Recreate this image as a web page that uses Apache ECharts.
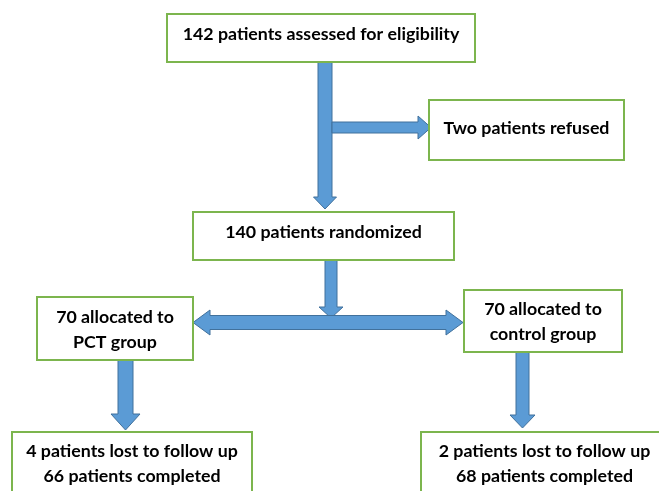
<!DOCTYPE html>
<html>
<head>
<meta charset="utf-8">
<script src="https://cdn.jsdelivr.net/npm/echarts@6/dist/echarts.min.js"></script>
<style>html,body{margin:0;padding:0;background:#fff}#c{width:659px;height:491px}</style>
</head>
<body>
<div id="c"></div>
<script>
// Flowchart content
const boxTexts = [
  '142 patients assessed for eligibility',
  'Two patients refused',
  '140 patients randomized',
  '70 allocated to\nPCT group',
  '70 allocated to\ncontrol group',
  '4 patients lost to follow up\n66 patients completed',
  '2 patients lost to follow up\n68 patients completed'
];
// Layout (pixel-like data coordinates): x0, y0, x1, y1, text centre y
const boxLayout = [
  [167, 14, 475, 62, 34],
  [429, 100, 624, 160, 128],
  [193, 212, 454, 260, 232],
  [37, 297, 193, 360, 329.5],
  [464, 290, 622, 352, 321.5],
  [12, 432, 252, 500, 464],
  [421, 432, 668, 500, 464]
];
// Arrows: type, params
// down: [cx, yStart, yTip, shaftW, headW, headL]
// right: [cy, xStart, xTip, shaftW, headW, headL]
// double: [cy, xLeftTip, xRightTip, shaftW, headW, headL]
const arrowLayout = [
  ['down', 325, 62, 209, 14, 23, 12],
  ['right', 127.5, 332, 431, 11, 23, 13],
  ['down', 331, 260, 318, 12, 24, 11],
  ['double', 322.5, 193, 463, 14, 25, 17],
  ['down', 125.5, 360, 430, 15, 29, 16],
  ['down', 522.5, 352, 428, 13, 25, 13]
];

const GREEN = '#7cb54e';
const BLUE = '#5b9bd5';
const BLUE_DARK = '#41719c';
const FONT = 'bold 17.8px Lato, "Liberation Sans", sans-serif';

function arrowPoints(a) {
  const t = a[0];
  if (t === 'down') {
    const [, cx, y0, yt, sw, hw, hl] = a;
    const yb = yt - hl;
    return [[cx - sw/2, y0], [cx + sw/2, y0], [cx + sw/2, yb], [cx + hw/2, yb], [cx, yt], [cx - hw/2, yb], [cx - sw/2, yb]];
  }
  if (t === 'right') {
    const [, cy, x0, xt, sw, hw, hl] = a;
    const xb = xt - hl;
    return [[x0, cy - sw/2], [xb, cy - sw/2], [xb, cy - hw/2], [xt, cy], [xb, cy + hw/2], [xb, cy + sw/2], [x0, cy + sw/2]];
  }
  const [, cy, xl, xr, sw, hw, hl] = a;
  return [[xl, cy], [xl + hl, cy - hw/2], [xl + hl, cy - sw/2], [xr - hl, cy - sw/2], [xr - hl, cy - hw/2], [xr, cy],
          [xr - hl, cy + hw/2], [xr - hl, cy + sw/2], [xl + hl, cy + sw/2], [xl + hl, cy + hw/2]];
}

const chart = echarts.init(document.getElementById('c'), null, {renderer: 'canvas'});
chart.setOption({
  animation: false,
  backgroundColor: '#ffffff',
  grid: {left: 0, right: 0, top: 0, bottom: 0},
  xAxis: {type: 'value', min: 0, max: 659, show: false},
  yAxis: {type: 'value', min: 0, max: 491, inverse: true, show: false},
  series: [
    {
      type: 'custom',
      coordinateSystem: 'cartesian2d',
      clip: false,
      data: arrowLayout.map((a, i) => [i]),
      renderItem: function (params, api) {
        const a = arrowLayout[api.value(0)];
        const pts = arrowPoints(a).map(p => api.coord(p));
        return {
          type: 'polygon',
          shape: {points: pts},
          style: {fill: BLUE, stroke: BLUE_DARK, lineWidth: 1}
        };
      }
    },
    {
      type: 'custom',
      coordinateSystem: 'cartesian2d',
      clip: false,
      z: 3,
      data: boxTexts.map((t, i) => [i]),
      renderItem: function (params, api) {
        const i = api.value(0);
        const b = boxLayout[i];
        const p0 = api.coord([b[0], b[1]]);
        const p1 = api.coord([b[2], b[3]]);
        const pc = api.coord([(b[0] + b[2]) / 2, b[4]]);
        return {
          type: 'group',
          children: [
            {
              type: 'rect',
              shape: {x: p0[0], y: p0[1], width: p1[0] - p0[0], height: p1[1] - p0[1]},
              style: {fill: '#ffffff', stroke: GREEN, lineWidth: 2}
            },
            {
              type: 'text',
              x: pc[0], y: pc[1],
              style: {
                text: boxTexts[i],
                font: FONT,
                fill: '#000000',
                align: 'center',
                verticalAlign: 'middle',
                lineHeight: 25
              }
            }
          ]
        };
      }
    }
  ]
});
</script>
</body>
</html>
